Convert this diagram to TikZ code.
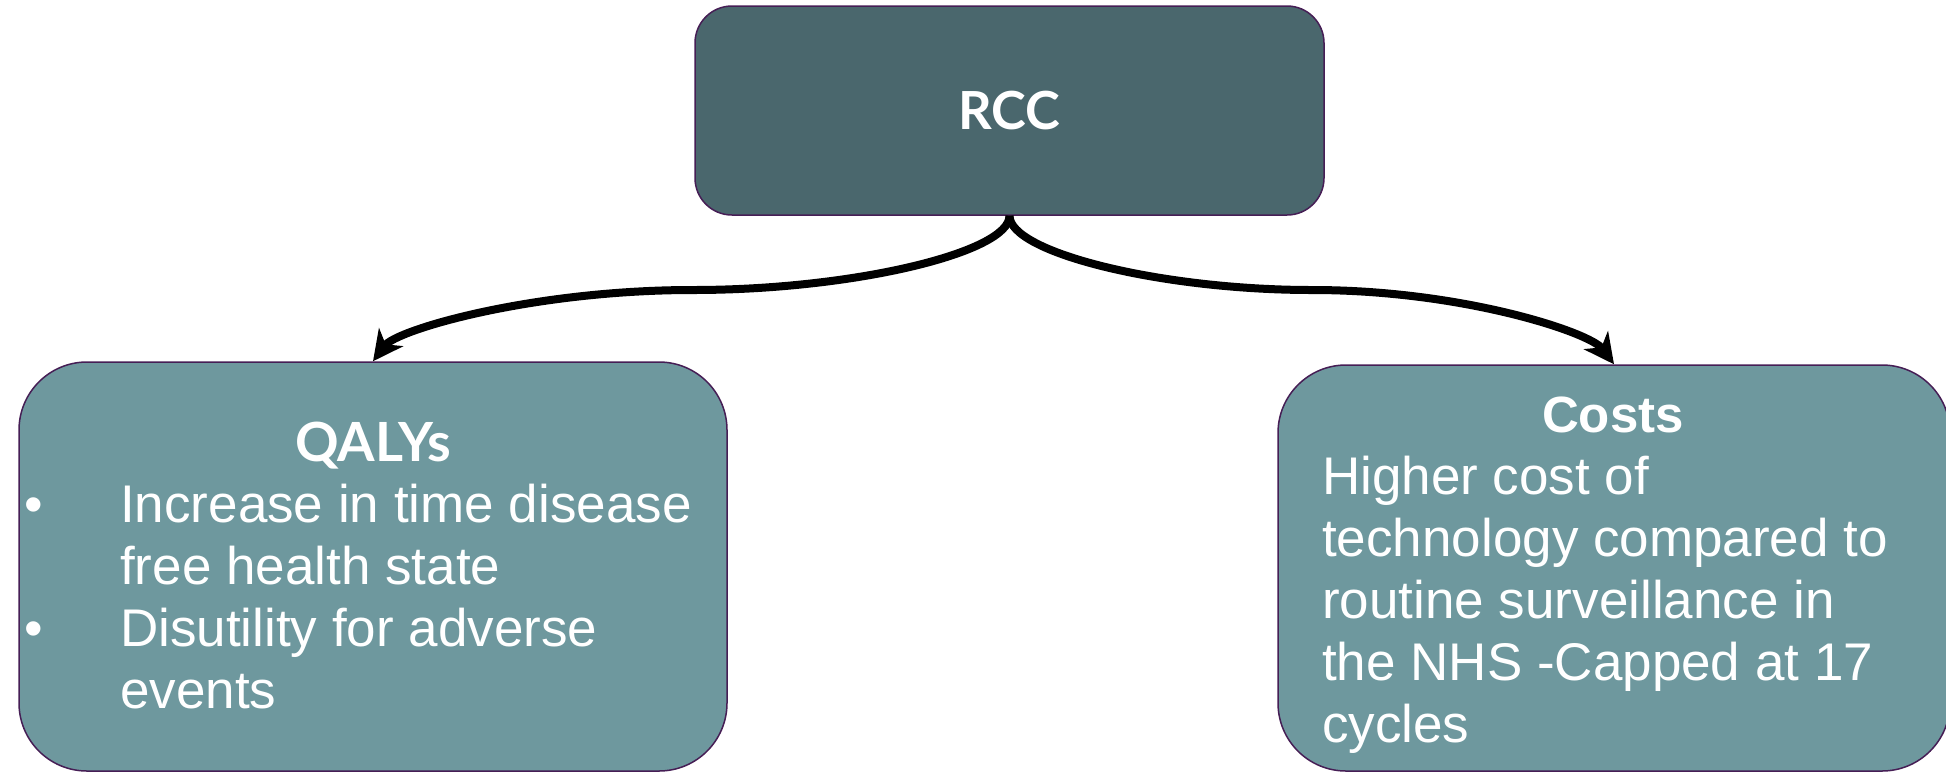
\documentclass[tikz,border=0pt]{standalone}
\usepackage{fontspec}
\setmainfont{Liberation Sans}
\newfontfamily\latofont{Lato}
\usetikzlibrary{arrows.meta}
\definecolor{topfill}{RGB}{74,103,109}
\definecolor{boxfill}{RGB}{110,152,158}
\definecolor{edgecol}{RGB}{70,30,85}
\tikzset{
  topbox/.style={draw=edgecol, line width=1.5pt, fill=topfill, rounded corners=37pt, inner sep=0pt, text=white},
  lowbox/.style={draw=edgecol, line width=1.5pt, fill=boxfill, rounded corners=68pt, inner sep=0pt},
  bodytext/.style={text=white, inner sep=0pt, font=\fontsize{53}{62}\selectfont},
  headlato/.style={text=white, inner sep=0pt, font=\latofont\bfseries\fontsize{54}{62}\selectfont},
  headarial/.style={text=white, inner sep=0pt, font=\bfseries\fontsize{51}{62}\selectfont},
  conn/.style={line width=8pt, -{Stealth[length=30pt,width=30pt,inset=9pt]}}
}
\begin{document}
\begin{tikzpicture}[x=1pt,y=-1pt]
\useasboundingbox[fill=white] (0,0) rectangle (1946,772);
% boxes
\node[topbox, minimum width=629pt, minimum height=209pt, font=\latofont\bfseries\fontsize{52.5}{60}\selectfont] (rcc) at (1009.5,110.5) {RCC};
\node[lowbox, minimum width=708pt, minimum height=409pt] (qaly) at (373,566.5) {};
\node[lowbox, minimum width=672pt, minimum height=406pt] (cost) at (1614,568) {};
% connectors
\coordinate (m1) at (693,290);
\coordinate (m2) at (1312,290);
\draw[conn] (rcc.south) .. controls +(0,37) and +(159,0) .. (m1)
  .. controls +(-159,0) and +(24,-32) .. (qaly.north);
\draw[conn] (rcc.south) .. controls +(0,37) and +(-150,0) .. (m2)
  .. controls +(150,0) and +(-24,-32) .. (cost.north);
% left text
\node[headlato, anchor=base] (qt) at (373,461) {QALYs};
\node[bodytext, anchor=base] (b1) at (34,522) {•};
\node[bodytext, anchor=base west] (l1) at (120,522) {Increase in time disease};
\node[bodytext, anchor=base west] (l2) at (120,584) {free health state};
\node[bodytext, anchor=base] (b2) at (34,646) {•};
\node[bodytext, anchor=base west] (l3) at (120,646) {Disutility for adverse};
\node[bodytext, anchor=base west] (l4) at (120,708) {events};
% right text
\node[headarial, anchor=base] (ct) at (1613,432) {Costs};
\node[bodytext, anchor=base west] (r1) at (1322,494) {Higher cost of};
\node[bodytext, anchor=base west] (r2) at (1322,556) {technology compared to};
\node[bodytext, anchor=base west] (r3) at (1322,618) {routine surveillance in};
\node[bodytext, anchor=base west] (r4) at (1322,680) {the NHS -Capped at 17};
\node[bodytext, anchor=base west] (r5) at (1322,742) {cycles};
\end{tikzpicture}
\end{document}
